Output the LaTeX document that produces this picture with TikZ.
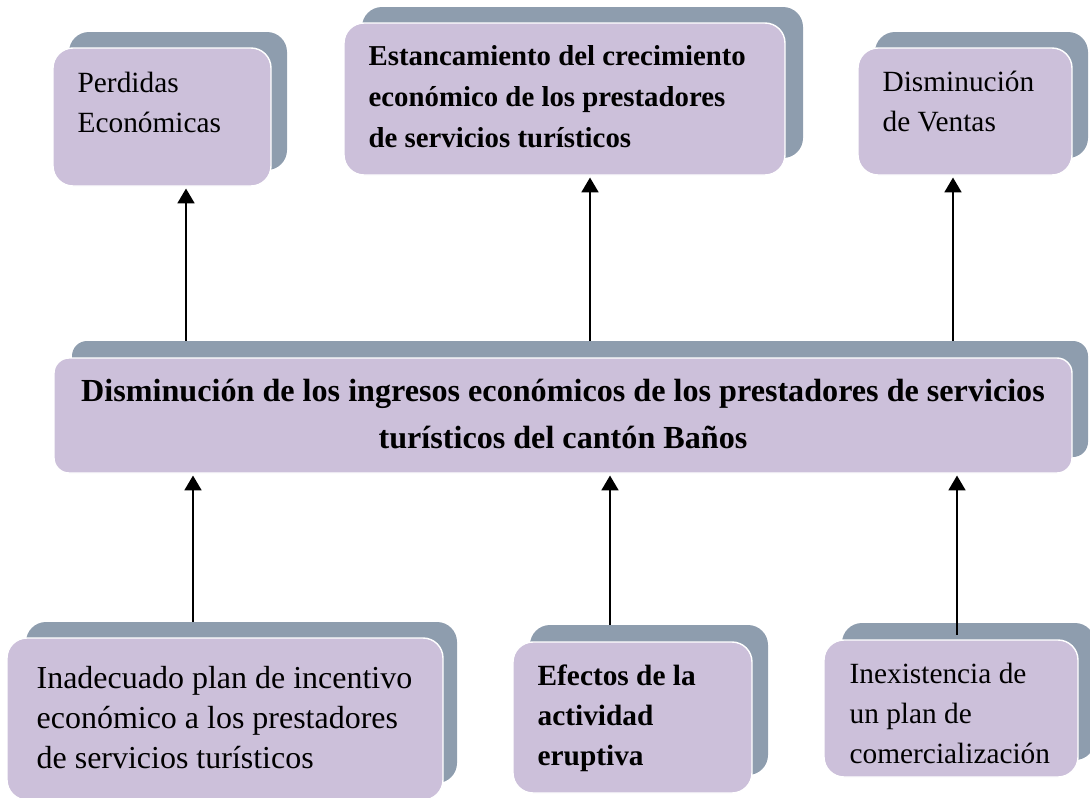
\documentclass[tikz,border=0pt]{standalone}
\usepackage{fontspec}
\setmainfont{Liberation Serif}
\usetikzlibrary{arrows.meta}
\usetikzlibrary{fit}

\definecolor{boxfill}{HTML}{CCC0DA}
\definecolor{boxshade}{HTML}{8E9DAE}

\tikzset{
  backbox/.style={fill=boxshade, rounded corners=0.4cm, inner sep=0pt},
  frontbox/.style={fill=boxfill, draw=white, line width=0.8pt, rounded corners=0.4cm, inner sep=0pt},
  boxtext/.style={inner sep=0pt, anchor=north west, align=left, font=\fontsize{16.7}{22.8}\selectfont},
  upline/.style={line width=1.6pt, shorten >=1pt, arrows=-{Triangle[length=8.5pt,width=9.5pt]}}
}

\begin{document}
\begin{tikzpicture}[x=0.02cm, y=-0.02cm]
  \useasboundingbox (0,0) rectangle (1090,798);

  % effects (top row)
  \node[backbox, fit={(69,32) (287,170)}] (perdidasB) {};
  \node[frontbox, fit={(53,48) (271,186)}] (perdidas) {};
  \node[backbox, fit={(362,7) (803,158)}] (estancB) {};
  \node[frontbox, fit={(344,23) (785,175)}] (estanc) {};
  \node[backbox, fit={(875,32) (1088,158)}] (ventasB) {};
  \node[frontbox, fit={(858,48) (1072,175)}] (ventas) {};

  % central problem
  \node[backbox, rounded corners=0.3cm, fit={(72,341) (1088,457)}] (mainB) {};
  \node[frontbox, rounded corners=0.3cm, fit={(54,358) (1072,473)}] (main) {};

  % causes (bottom row)
  \node[backbox, fit={(26,622) (457,783)}] (incentivoB) {};
  \node[frontbox, fit={(7,638) (443,800)}] (incentivo) {};
  \node[backbox, fit={(530,625) (768,775)}] (eruptivaB) {};
  \node[frontbox, fit={(513,642) (752,793)}] (eruptiva) {};
  \node[backbox, fit={(842,623) (1095,760)}] (comercB) {};
  \node[frontbox, fit={(824,640) (1078,777)}] (comerc) {};

  \node[boxtext] (perdidasT) at ([shift={(25,24)}]perdidas.north west) {Perdidas\\Económicas};
  \node[boxtext, font=\fontsize{16.4}{23.2}\selectfont\bfseries] (estancT) at ([shift={(25,23)}]estanc.north west)
    {Estancamiento del crecimiento\\económico de los prestadores\\de servicios turísticos};
  \node[boxtext] (ventasT) at ([shift={(25,23)}]ventas.north west) {Disminución\\de Ventas};
  \node[boxtext, anchor=north, align=center, font=\fontsize{18.3}{26.2}\selectfont\bfseries] (mainT)
    at ([shift={(0,22)}]main.north)
    {Disminución de los ingresos económicos de los prestadores de servicios\\turísticos del cantón Baños};
  \node[boxtext, font=\fontsize{18.2}{22.8}\selectfont] (incentivoT) at ([shift={(30,29)}]incentivo.north west)
    {Inadecuado plan de incentivo\\económico a los prestadores\\de servicios turísticos};
  \node[boxtext, font=\fontsize{16.7}{22.8}\selectfont\bfseries] (eruptivaT) at ([shift={(25,23)}]eruptiva.north west)
    {Efectos de la\\actividad\\eruptiva};
  \node[boxtext] (comercT) at ([shift={(26,23)}]comerc.north west)
    {Inexistencia de\\un plan de\\comercialización};

  \coordinate (xa) at (186,0);
  \coordinate (xb) at (590,0);
  \coordinate (xc) at (953,0);
  \coordinate (xd) at (193,0);
  \coordinate (xe) at (610,0);
  \coordinate (xf) at (957,0);

  \draw[upline] (mainB.north -| xa) -- (perdidas.south -| xa);
  \draw[upline] (mainB.north -| xb) -- (estanc.south -| xb);
  \draw[upline] (mainB.north -| xc) -- (ventas.south -| xc);
  \draw[upline] (incentivoB.north -| xd) -- (main.south -| xd);
  \draw[upline] (eruptivaB.north -| xe) -- (main.south -| xe);
  \draw[upline] (comercB.north -| xf) ++(0,12) -- (main.south -| xf);
\end{tikzpicture}
\end{document}
